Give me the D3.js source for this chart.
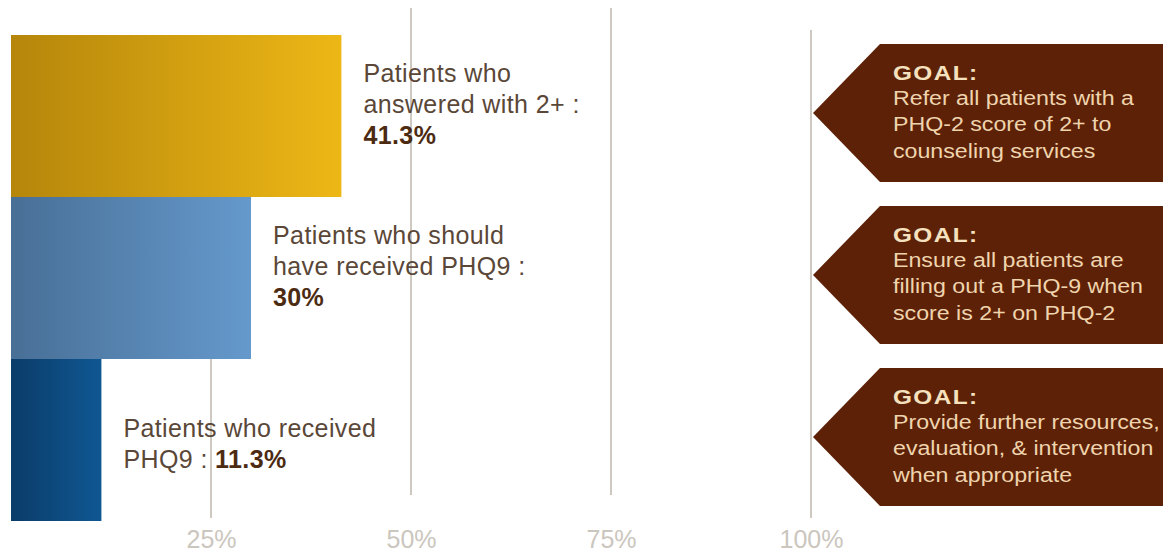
<!DOCTYPE html>
<html>
<head>
<meta charset="utf-8">
<script src="https://cdn.jsdelivr.net/npm/d3@7"></script>
<style>
    body { margin: 0; background: #fff; }
    svg { display: block; font-family: "Liberation Sans", Arial, sans-serif; }
</style>
</head>
<body>
<svg></svg>
<script>
"use strict";

// data
var categories = ['answered', 'shouldReceive', 'received'];
var values = [41.3, 30, 11.3];
var labelLines = [
    ['Patients who', 'answered with 2+ :', ''],
    ['Patients who should', 'have received PHQ9 :', ''],
    ['Patients who received', 'PHQ9 : ']
];
var goalTexts = [
    ['Refer all patients with a', 'PHQ-2 score of 2+ to', 'counseling services'],
    ['Ensure all patients are', 'filling out a PHQ-9 when', 'score is 2+ on PHQ-2'],
    ['Provide further resources,', 'evaluation, & intervention', 'when appropriate']
];
var tickValues = [25, 50, 75, 100];

var settings = {
    width: 1163,
    height: 556,
    gradients: [
        ['#b5860b', '#edb716'],
        ['#486f96', '#6599cc'],
        ['#0b3c69', '#0f5792']
    ],
    grid: '#cdc8c0',
    tickText: '#cbc6be',
    labelText: '#5a4738',
    valueText: '#4c2b12',
    goalFill: '#5d2107',
    goalHead: '#f6e1bf',
    goalBody: '#efd4ad'
};

var svg = d3.select('svg')
    .attr('width', settings.width)
    .attr('height', settings.height);

var x = d3.scaleLinear().domain([0, 100]).range([11, 811]);
var y = d3.scaleBand().domain(categories).range([35, 521]).padding(0);

var defs = svg.append('defs');
settings.gradients.forEach((g, i) => {
    var lg = defs.append('linearGradient')
        .attr('id', `grad-${i}`)
        .attr('x1', '0%').attr('x2', '100%')
        .attr('y1', '0%').attr('y2', '0%');
    lg.append('stop').attr('offset', '0%').attr('stop-color', g[0]);
    lg.append('stop').attr('offset', '100%').attr('stop-color', g[1]);
});

// gridlines (they are drawn a bit uneven in the original)
svg.append('g')
    .selectAll('line')
    .data(tickValues)
    .enter()
    .append('line')
    .attr('x1', d => x(d))
    .attr('x2', d => x(d))
    .attr('y1', d => d === 25 ? 35 : d === 100 ? 30 : 8)
    .attr('y2', d => (d === 50 || d === 75) ? 495 : 518)
    .attr('stroke', settings.grid)
    .attr('stroke-width', 2);

// bars
svg.append('g')
    .selectAll('rect')
    .data(values)
    .enter()
    .append('rect')
    .attr('x', x(0))
    .attr('y', (d, i) => y(categories[i]))
    .attr('width', d => x(d) - x(0))
    .attr('height', y.bandwidth())
    .attr('fill', (d, i) => `url(#grad-${i})`);

// labels next to the bars
var labels = svg.append('g')
    .selectAll('text')
    .data(values)
    .enter()
    .append('text')
    .attr('font-size', 25)
    .attr('letter-spacing', 0.4)
    .attr('fill', settings.labelText);

labels.each(function (d, i) {
    var lines = labelLines[i];
    var n = lines.length;
    var cy = y(categories[i]) + y.bandwidth() / 2;
    var t = d3.select(this);
    lines.forEach((line, j) => {
        var ts = t.append('tspan')
            .attr('x', x(d) + 22)
            .attr('y', cy + 28 - (n - 1 - j) * 31);
        ts.append('tspan').text(line);
        if (j === n - 1) {
            ts.append('tspan')
                .attr('font-weight', 'bold')
                .attr('fill', settings.valueText)
                .text(d + '%');
        }
    });
});

// goal arrows
var goals = svg.append('g')
    .selectAll('g')
    .data(goalTexts)
    .enter()
    .append('g');

goals.append('polygon')
    .attr('points', (d, i) => {
        var top = y(categories[i]) + 9,
            bottom = y(categories[i]) + y.bandwidth() - 15,
            mid = (top + bottom) / 2,
            tip = x(100) + 2,
            body = x(100) + 69;
        return `${tip},${mid} ${body},${top} ${settings.width + 10},${top} ${settings.width + 10},${bottom} ${body},${bottom}`;
    })
    .attr('fill', settings.goalFill);

var goalText = goals.append('g')
    .attr('transform', (d, i) => `translate(${x(100) + 82},${y(categories[i]) + 9}) scale(1.16,1)`);

goalText.append('text')
    .attr('x', 0)
    .attr('y', 36)
    .attr('font-size', 21)
    .attr('font-weight', 'bold')
    .attr('letter-spacing', 1.2)
    .attr('fill', settings.goalHead)
    .text('GOAL:');

goalText.selectAll('.goal-line')
    .data(d => d)
    .enter()
    .append('text')
    .attr('class', 'goal-line')
    .attr('x', 0)
    .attr('y', (d, j) => 61 + j * 26.5)
    .attr('font-size', 20)
    .attr('fill', settings.goalBody)
    .text(d => d);

// axis labels
var axis = svg.append('g')
    .attr('transform', 'translate(0,527)')
    .call(d3.axisBottom(x)
        .tickValues(tickValues)
        .tickSize(0)
        .tickPadding(3)
        .tickFormat(d => d + '%'));

axis.select('.domain').remove();
axis.selectAll('text')
    .attr('font-size', 25)
    .attr('font-family', '"Liberation Sans", Arial, sans-serif')
    .attr('fill', settings.tickText);
</script>
</body>
</html>
